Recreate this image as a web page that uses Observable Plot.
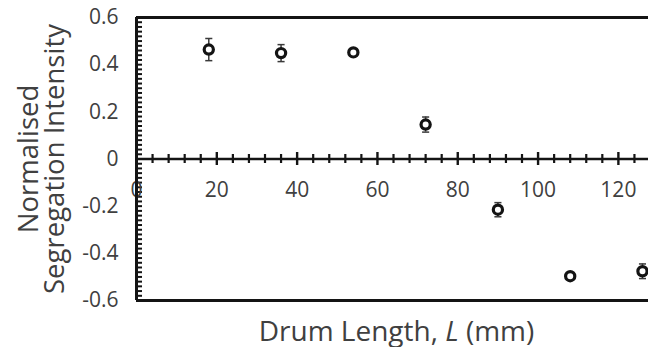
<!DOCTYPE html>
<html><head><meta charset="utf-8">
<script src="https://cdn.jsdelivr.net/npm/d3@7"></script>
<script src="https://cdn.jsdelivr.net/npm/@observablehq/plot@0.6"></script>
<style>body{margin:0;background:#fff}</style>
</head><body><div id="chart"></div>
<script>
// ---- data ----
const drumLength = [18, 36, 54, 72, 90, 108, 126];
const intensity = [0.464, 0.449, 0.452, 0.146, -0.215, -0.497, -0.476];
const errorBar = [0.047, 0.036, 0.010, 0.032, 0.030, 0.010, 0.031];
const xTicks = [0, 20, 40, 60, 80, 100, 120];
const xTickLabels = ["0", "20", "40", "60", "80", "100", "120"];
const yTicks = [0.6, 0.4, 0.2, 0, -0.2, -0.4, -0.6];
const yTickLabels = ["0.6", "0.4", "0.2", "0", "-0.2", "-0.4", "-0.6"];
const xTitle = "Drum Length, L (mm)";
const yTitle = "Normalised\nSegregation Intensity";

const data = drumLength.map((x, i) => ({x, y: intensity[i], e: errorBar[i]}));

// ---- layout ----
const W = 648, H = 347, mL = 136, mT = 17, mB = 47, mR = 0;
const innerH = H - mT - mB;
const zeroOffset = innerH / 2; // distance from bottom frame to y = 0
const ink = "#141414", txt = "#404040";
const FONT = "Open Sans";

const capSymbol = {draw(ctx, size) { const w = Math.sqrt(size) / 2; ctx.moveTo(-w, 0); ctx.lineTo(w, 0); }};

const xMinor = d3.range(0, 128, 4).filter(v => v % 20 !== 0);
const yMinor = d3.range(-30, 31).map(i => i / 50);

const chart = Plot.plot({
  width: W, height: H,
  marginLeft: mL, marginTop: mT, marginBottom: mB, marginRight: mR,
  style: {fontFamily: FONT, background: "#fff"},
  x: {domain: [0, 127.5]},
  y: {domain: [-0.6, 0.6]},
  marks: [
    // y minor ticks (inside)
    Plot.axisY(yMinor, {anchor: "left", tickSize: 6, dx: 6, strokeWidth: 2, stroke: ink, fill: "none", label: null}),
    // x ticks crossing the zero line
    Plot.axisX(xMinor, {anchor: "bottom", tickSize: 9, dy: -zeroOffset - 4.5, strokeWidth: 2.2, stroke: ink, fill: "none", label: null}),
    Plot.axisX(xTicks, {anchor: "bottom", tickSize: 13, dy: -zeroOffset - 6.5, strokeWidth: 2.4, stroke: ink, fill: "none", label: null}),
    // tick labels
    Plot.axisX(xTicks, {anchor: "bottom", tickSize: 0, tickPadding: 0, dy: -zeroOffset + 23, fontSize: 21, fill: txt, label: null,
      tickFormat: d => xTickLabels[xTicks.indexOf(d)]}),
    Plot.axisY(yTicks, {anchor: "left", tickSize: 0, tickPadding: 18, fontSize: 21, fill: txt, label: null,
      tickFormat: d => yTickLabels[yTicks.indexOf(d)]}),
    // frame lines (top, bottom, left) and zero line
    Plot.ruleY([0.6, -0.6], {stroke: ink, strokeWidth: 3}),
    Plot.ruleX([0], {stroke: ink, strokeWidth: 3}),
    Plot.ruleY([0], {stroke: ink, strokeWidth: 2.6}),
    // error bars
    Plot.ruleX(data, {x: "x", y1: d => d.y - d.e, y2: d => d.y + d.e, stroke: "#3a3a3a", strokeWidth: 1.5}),
    Plot.dot(data, {x: "x", y: d => d.y - d.e, symbol: capSymbol, r: 4, stroke: "#3a3a3a", strokeWidth: 1.5}),
    Plot.dot(data, {x: "x", y: d => d.y + d.e, symbol: capSymbol, r: 4, stroke: "#3a3a3a", strokeWidth: 1.5}),
    // markers
    Plot.dot(data, {x: "x", y: "y", r: 4.6, stroke: ink, strokeWidth: 3.2, fill: "#fff"}),
    // axis titles
    Plot.text([xTitle], {frameAnchor: "bottom", lineAnchor: "bottom", dy: 40, dx: 4, fontSize: 28, fill: txt, className: "xtitle"}),
    Plot.text([yTitle], {frameAnchor: "left", textAnchor: "middle", rotate: -90, lineAnchor: "middle", dx: -94, dy: 0, fontSize: 27.5, lineHeight: 0.97, fill: txt})
  ]
});

// italic L in x title
const t = chart.querySelector(".xtitle text");
if (t) t.innerHTML = 'Drum Length, <tspan font-style="italic">L</tspan> (mm)';
document.getElementById("chart").appendChild(chart);
</script>
</body></html>
